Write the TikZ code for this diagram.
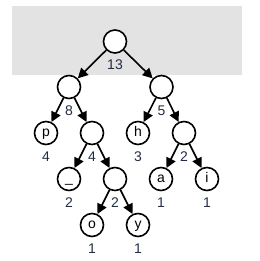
\documentclass[tikz,border=0pt]{standalone}
\usepackage{fontspec}
\setmainfont{Liberation Sans}
\usetikzlibrary{arrows.meta}
\definecolor{numcol}{RGB}{35,45,65}
\definecolor{bandgray}{RGB}{227,227,227}
\begin{document}
\begin{tikzpicture}[x=1pt,y=-1pt,
  tn/.style={circle,draw=black,line width=1.6pt,fill=white,minimum size=23pt,inner sep=0pt,
    text height=9pt,text depth=2pt,font=\fontsize{14}{16}\selectfont},
  cnt/.style={font=\fontsize{14}{16}\selectfont,text=numcol},
  edge/.style={line width=1.6pt,-{Triangle[length=10pt,width=10pt]}}]
\useasboundingbox (0,0) rectangle (259,261);
\fill[bandgray] (12,6) rectangle (242,75);
\node[tn] (r) at (115,41.5) {};
\node[tn] (l) at (69,87) {};
\node[tn] (rr) at (161.5,87) {};
\node[tn] (p) at (46,133) {p};
\node[tn] (f) at (92,133) {};
\node[tn] (h) at (138,133) {h};
\node[tn] (t) at (184,133) {};
\node[tn] (u) at (69,179) {\_};
\node[tn] (s) at (115,179) {};
\node[tn] (a) at (161,179) {a};
\node[tn] (i) at (207,179) {i};
\node[tn] (o) at (92,225) {o};
\node[tn] (y) at (138,225) {y};
\foreach \n/\v in {r/13,l/8,rr/5,p/4,f/4,h/3,t/2,u/2,s/2,a/1,i/1,o/1,y/1}
  \node[cnt] (c\n) at ([yshift=-23.5pt]\n.center) {\v};
\foreach \a/\b in {r/l,r/rr,l/p,l/f,rr/h,rr/t,f/u,f/s,t/a,t/i,s/o,s/y}
  \draw[edge] (\a) -- (\b);
\end{tikzpicture}
\end{document}
